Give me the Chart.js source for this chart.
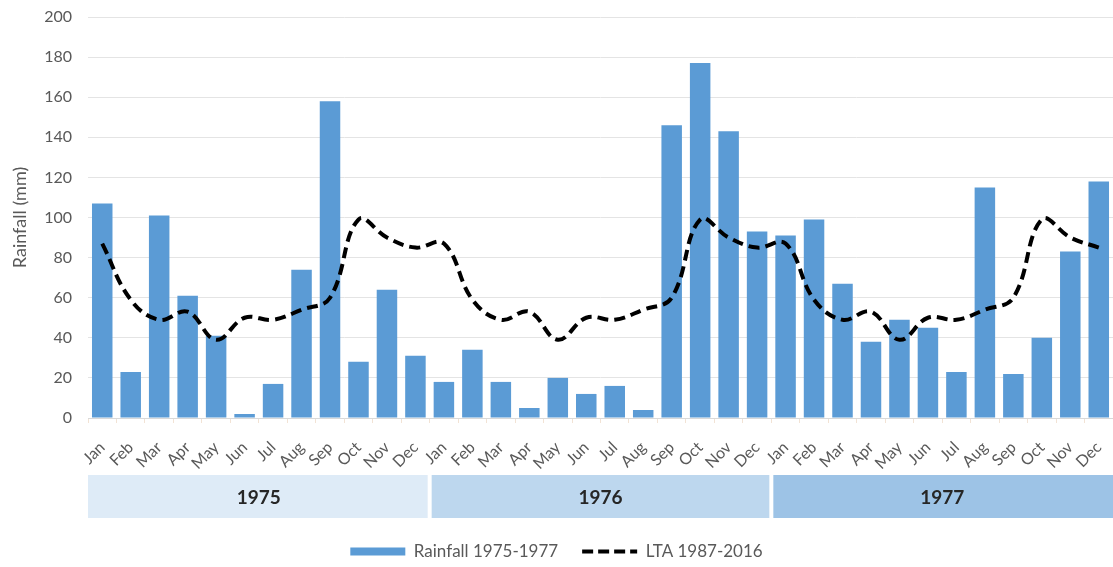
<!DOCTYPE html>
<html>
<head>
<meta charset="utf-8">
<script src="https://cdn.jsdelivr.net/npm/chart.js@4/dist/chart.umd.min.js"></script>
<style>
  html, body { margin: 0; padding: 0; background: #fff; }
  #wrap { width: 1113px; height: 567px; position: relative; }
</style>
</head>
<body>
<div id="wrap"><canvas id="c" width="1113" height="567"></canvas></div>
<script>
const months = ['Jan','Feb','Mar','Apr','May','Jun','Jul','Aug','Sep','Oct','Nov','Dec'];
const years = ['1975','1976','1977'];
const categories = [...months, ...months, ...months];
const rainfall1975 = [107, 23, 101, 61, 41, 2, 17, 74, 158, 28, 64, 31];
const rainfall1976 = [18, 34, 18, 5, 20, 12, 16, 4, 146, 177, 143, 93];
const rainfall1977 = [91, 99, 67, 38, 49, 45, 23, 115, 22, 40, 83, 118];
const ltaMonthly = [87, 59, 49, 53, 39, 50, 49, 54, 60, 99, 90, 85];
const yTicks = [0, 20, 40, 60, 80, 100, 120, 140, 160, 180, 200];
const bandColors = ['#deebf7', '#bdd7ee', '#9dc3e6'];

const rainfall = [...rainfall1975, ...rainfall1976, ...rainfall1977];
const lta = [...ltaMonthly, ...ltaMonthly, ...ltaMonthly];

const FONT = 'Lato, "Open Sans", sans-serif';
const GREY = '#595959';

const yearBands = {
  id: 'yearBands',
  afterDraw(chart) {
    const ctx = chart.ctx;
    const x = chart.scales.x;
    const top = chart.chartArea.bottom + 57;
    const h = 43;
    ctx.save();
    years.forEach((yr, i) => {
      const l = x.getPixelForValue(i * 12 - 0.5);
      const r = x.getPixelForValue(i * 12 + 11.5);
      const left = i === 0 ? l : l + 2;
      const right = i === years.length - 1 ? chart.width : r - 2;
      ctx.fillStyle = bandColors[i];
      ctx.fillRect(left, top, right - left, h);
      ctx.fillStyle = '#262626';
      ctx.font = 'bold 19px ' + FONT;
      ctx.textAlign = 'center';
      ctx.textBaseline = 'middle';
      ctx.fillText(yr, (l + r) / 2, top + h / 2 + 1);
    });
    ctx.restore();
  }
};

new Chart(document.getElementById('c'), {
  type: 'bar',
  data: {
    labels: categories,
    datasets: [
      {
        type: 'bar',
        label: 'Rainfall 1975-1977',
        data: rainfall,
        backgroundColor: '#5b9bd5',
        borderWidth: 0,
        barPercentage: 0.72,
        categoryPercentage: 1.0,
        pointStyle: 'rect',
        order: 2
      },
      {
        type: 'line',
        label: 'LTA 1987-2016',
        data: lta,
        borderColor: '#000000',
        backgroundColor: '#000000',
        borderWidth: 4,
        borderDash: [11, 6],
        pointRadius: 0,
        pointStyle: 'line',
        tension: 0.4,
        fill: false,
        order: 1
      }
    ]
  },
  options: {
    responsive: false,
    animation: false,
    layout: { padding: { top: 0, right: 0, bottom: -3, left: 0 } },
    plugins: {
      legend: {
        position: 'bottom',
        labels: {
          usePointStyle: true,
          pointStyleWidth: 55,
          boxWidth: 55,
          boxHeight: 8,
          padding: 24,
          color: GREY,
          font: { family: FONT, size: 17 },
          sort: (a, b) => a.datasetIndex - b.datasetIndex,
          generateLabels(chart) {
            const items = Chart.defaults.plugins.legend.labels.generateLabels(chart);
            items.forEach(it => {
              if (it.datasetIndex === 1) {
                it.pointStyle = 'line';
                it.lineDash = [11, 5];
                it.lineWidth = 4;
                it.strokeStyle = '#000000';
              } else {
                it.pointStyle = 'rect';
                it.lineWidth = 0;
                it.fillStyle = '#5b9bd5';
              }
            });
            return items;
          }
        }
      },
      tooltip: { enabled: false }
    },
    scales: {
      x: {
        grid: { display: true, drawOnChartArea: false, color: '#f2e3d5', tickLength: 5, offset: true },
        border: { display: true, color: '#d9d9d9' },
        ticks: {
          color: GREY,
          font: { family: FONT, size: 16 },
          maxRotation: 45,
          minRotation: 45,
          autoSkip: false,
          padding: 15
        },
        afterFit(scale) { scale.height = 101; scale.paddingRight = 0; scale.paddingLeft = 0; }
      },
      y: {
        min: 0,
        max: 200,
        afterBuildTicks(scale) { scale.ticks = yTicks.map(v => ({ value: v })); },
        grid: { color: '#e4e4e4', drawTicks: false },
        border: { display: false },
        ticks: {
          color: GREY,
          font: { family: FONT, size: 16 },
          padding: 16
        },
        title: {
          display: true,
          text: 'Rainfall (mm)',
          color: GREY,
          font: { family: FONT, size: 18 },
          padding: { top: 9, bottom: 0 }
        },
        afterFit(scale) { scale.width = 88; scale.paddingTop = 17; }
      }
    }
  },
  plugins: [yearBands]
});
</script>
</body>
</html>
